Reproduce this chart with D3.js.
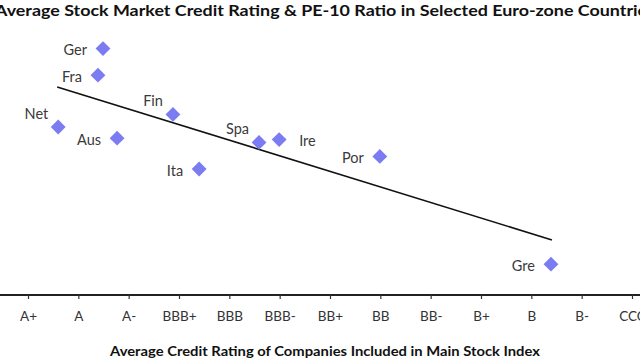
<!DOCTYPE html>
<html>
<head>
<meta charset="utf-8">
<script src="https://cdn.jsdelivr.net/npm/d3@7"></script>
<style>
  html, body { margin: 0; padding: 0; background: #fff; }
  svg { display: block; }
  text { font-family: Lato, "Open Sans", sans-serif; }
</style>
</head>
<body>
<svg id="chart" width="640" height="360"></svg>
<script>
// Rating categories (x-axis tick labels), index = position on the rating scale
const ratingLabels = ["A+", "A", "A-", "BBB+", "BBB", "BBB-", "BB+", "BB", "BB-", "B+", "B", "B-", "CCC"];

// Countries and their values
const countries = ["Ger", "Fra", "Net", "Aus", "Fin", "Spa", "Ire", "Ita", "Por", "Gre"];
const ratingIndex = [1.49, 1.39, 0.60, 1.77, 2.88, 4.59, 4.99, 3.40, 6.99, 10.39];
const pe10 = [17.6, 15.7, 12.0, 11.2, 12.9, 10.9, 11.1, 9.0, 9.9, 2.2];
// label placement for each point
const labelPos = ["left", "left", "aboveLeft", "left", "aboveLeft", "aboveLeft", "right", "left", "left", "left"];

// Trend line endpoints (rating index, PE-10)
const trendX = [0.58, 10.41];
const trendY = [14.86, 3.93];

const svg = d3.select("#chart");
const W = 640, H = 360;
const axisY = 295;

const x = d3.scaleLinear().domain([0, 12]).range([28, 632]);
const y = d3.scaleLinear().domain([0, 21]).range([axisY, 1]);

// Title
svg.append("text")
  .attr("x", 325).attr("y", 15.5)
  .attr("text-anchor", "middle")
  .attr("font-size", 16).attr("font-weight", "bold")
  .attr("fill", "#111")
  .attr("textLength", 660).attr("lengthAdjust", "spacingAndGlyphs")
  .text("Average Stock Market Credit Rating & PE-10 Ratio in Selected Euro-zone Countries");

// X axis
svg.append("line")
  .attr("x1", 0).attr("x2", W)
  .attr("y1", axisY).attr("y2", axisY)
  .attr("stroke", "#222").attr("stroke-width", 1.8);

const axis = d3.axisBottom(x)
  .tickValues(d3.range(ratingLabels.length))
  .tickFormat(i => ratingLabels[i])
  .tickSize(4)
  .tickPadding(12);

const gAxis = svg.append("g")
  .attr("transform", `translate(0,${axisY})`)
  .call(axis);
gAxis.select(".domain").remove();
gAxis.selectAll(".tick line").attr("stroke", "#333").attr("stroke-width", 1.2);
gAxis.selectAll(".tick text")
  .attr("font-family", "Lato, 'Open Sans', sans-serif")
  .attr("font-size", 13.5)
  .attr("fill", "#333");

// Axis title
svg.append("text")
  .attr("x", 325).attr("y", 356)
  .attr("text-anchor", "middle")
  .attr("font-size", 13.5).attr("font-weight", "bold")
  .attr("fill", "#111")
  .attr("textLength", 430).attr("lengthAdjust", "spacingAndGlyphs")
  .text("Average Credit Rating of Companies Included in Main Stock Index");

// Trend line
svg.append("line")
  .attr("x1", x(trendX[0])).attr("y1", y(trendY[0]))
  .attr("x2", x(trendX[1])).attr("y2", y(trendY[1]))
  .attr("stroke", "#111").attr("stroke-width", 1.6);

// Points
const data = countries.map((c, i) => ({ c, rx: ratingIndex[i], pe: pe10[i], pos: labelPos[i] }));
const diamond = d3.symbol().type(d3.symbolSquare).size(110);

svg.append("g").selectAll("path")
  .data(data).join("path")
  .attr("d", diamond)
  .attr("transform", d => `translate(${x(d.rx)},${y(d.pe)}) rotate(45)`)
  .attr("fill", "#7b7bf2");

// Labels
svg.append("g").selectAll("text")
  .data(data).join("text")
  .attr("font-size", 14.5)
  .attr("fill", "#3a3a3a")
  .attr("dominant-baseline", "central")
  .attr("text-anchor", d => d.pos === "right" ? "start" : (d.pos === "aboveLeft" ? "end" : "end"))
  .attr("x", d => {
    const cx = x(d.rx);
    if (d.pos === "right") return cx + 20;
    if (d.pos === "aboveLeft") return cx - 10;
    return cx - 16;
  })
  .attr("y", d => {
    const cy = y(d.pe);
    if (d.pos === "aboveLeft") return cy - 14;
    return cy + 1;
  })
  .text(d => d.c);
</script>
</body>
</html>
